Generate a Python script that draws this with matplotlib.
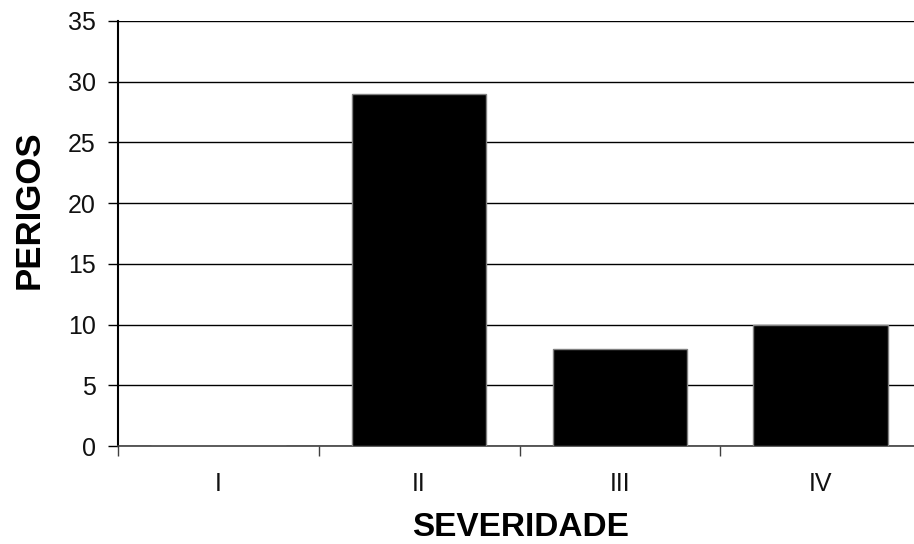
import matplotlib.pyplot as plt

# Dados
severidade = ['I', 'II', 'III', 'IV']
perigos = [0, 29, 8, 10]

plt.rcParams['font.family'] = ['Liberation Sans', 'DejaVu Sans']

fig = plt.figure(figsize=(9.14, 5.44), dpi=100)
ax = fig.add_axes([118/914, 1-446/544, 803/914, 425/544])

pos = list(range(len(severidade)))
ax.bar(pos, perigos, width=0.67, color='black', edgecolor='#808080', linewidth=1, zorder=3)

ax.set_xlim(-0.5, len(severidade) - 0.5)
ax.set_ylim(0, 35)
ax.set_yticks(range(0, 36, 5))
ax.yaxis.grid(True, color='black', linewidth=1, zorder=0)
ax.set_axisbelow(True)

ax.set_xticks(pos)
ax.set_xticklabels(severidade)
ax.set_xticks([p - 0.5 for p in pos], minor=True)
ax.tick_params(axis='x', which='major', length=0, pad=19, labelsize=18, labelcolor='#111111')
ax.tick_params(axis='x', which='minor', length=7, width=1, color='#404040')
ax.tick_params(axis='y', length=7, width=1, pad=9, labelsize=18, labelcolor='#111111')

for s in ['top', 'right']:
    ax.spines[s].set_visible(False)
ax.spines['left'].set_linewidth(1.5)
ax.spines['bottom'].set_color('#404040')
ax.spines['bottom'].set_linewidth(1.2)

ax.set_xlabel('SEVERIDADE', fontsize=24, fontweight='bold')
ax.set_ylabel('PERIGOS', fontsize=25, fontweight='bold')
ax.xaxis.set_label_coords((521-118)/803, (446-512)/425)
ax.yaxis.set_label_coords((46-118)/803, (446-210)/425)

fig.savefig('out.png', dpi=100)
